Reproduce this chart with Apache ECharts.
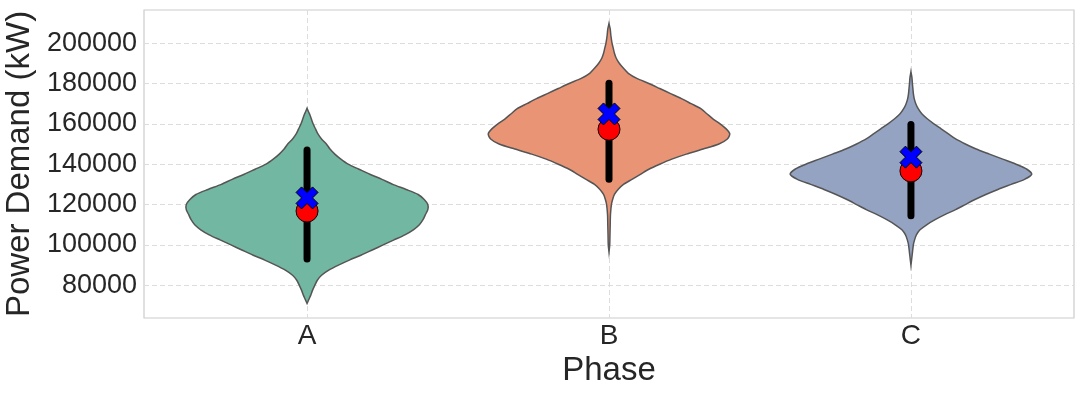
<!DOCTYPE html>
<html>
<head>
<meta charset="utf-8">
<script src="https://cdn.jsdelivr.net/npm/echarts@6/dist/echarts.min.js"></script>
<style>
html, body { margin: 0; padding: 0; background: #fff; }
#chart { width: 1084px; height: 395px; }
</style>
</head>
<body>
<div id="chart"></div>
<script>
var phases = ['A', 'B', 'C'];
var yTicks = [80000, 100000, 120000, 140000, 160000, 180000, 200000];

// violin outlines: [power, relative half width]
var violinA = [
    [167700, 0], [166000, 0.012], [165000, 0.02], [162500, 0.035], [160000, 0.05],
    [157500, 0.07], [155000, 0.09], [152500, 0.12], [150000, 0.16], [147500, 0.19],
    [145000, 0.23], [142500, 0.28], [140000, 0.34], [137500, 0.43], [135000, 0.52],
    [132500, 0.62], [130000, 0.71], [127500, 0.82], [125000, 0.92], [122500, 0.97],
    [120000, 1.0], [117500, 1.0], [115000, 0.98], [112500, 0.96], [110000, 0.93],
    [107500, 0.88], [105000, 0.81], [102500, 0.72], [100000, 0.63], [97500, 0.54],
    [95000, 0.45], [92500, 0.35], [90000, 0.26], [87500, 0.18], [85000, 0.12],
    [82500, 0.085], [80000, 0.064], [77500, 0.045], [75000, 0.03], [73000, 0.015],
    [71000, 0]
];
var violinB = [
    [209700, 0], [207000, 0.01], [204000, 0.015], [200000, 0.025], [197500, 0.035],
    [195000, 0.045], [192500, 0.06], [190000, 0.085], [187500, 0.12], [185000, 0.16],
    [182500, 0.23], [180000, 0.33], [177500, 0.42], [175000, 0.51], [172500, 0.6],
    [170000, 0.68], [167500, 0.76], [165000, 0.81], [162500, 0.86], [160000, 0.92],
    [157500, 0.97], [155000, 1.0], [152500, 0.98], [150000, 0.91], [147500, 0.78],
    [145000, 0.64], [142500, 0.52], [140000, 0.42], [137500, 0.33], [135000, 0.26],
    [132500, 0.19], [130000, 0.12], [127500, 0.075], [125000, 0.045], [122500, 0.03],
    [120000, 0.02], [115000, 0.012], [110000, 0.01], [105000, 0.008], [100000, 0.006],
    [96500, 0]
];
var violinC = [
    [185800, 0], [183000, 0.008], [180000, 0.012], [177500, 0.016], [175000, 0.02],
    [172500, 0.027], [170000, 0.04], [167500, 0.06], [165000, 0.09], [162500, 0.135],
    [160000, 0.19], [157500, 0.25], [155000, 0.31], [152500, 0.37], [150000, 0.45],
    [147500, 0.54], [145000, 0.65], [142500, 0.76], [140000, 0.87], [137500, 0.96],
    [135000, 1.0], [132500, 0.94], [130000, 0.83], [127500, 0.72], [125000, 0.62],
    [122500, 0.53], [120000, 0.45], [117500, 0.37], [115000, 0.28], [112500, 0.2],
    [110000, 0.13], [107500, 0.075], [105000, 0.045], [102500, 0.03], [100000, 0.02],
    [95000, 0.01], [90000, 0]
];

var barLow = [93000, 132600, 114400];
var barHigh = [147000, 180100, 159700];
var medians = [116800, 157300, 136700];
var means = [123300, 164900, 143500];

var violinColors = ['#72b7a1', '#e99575', '#95a3c3'];
var violinHalf = 0.4;
var textColor = '#262626';
var xMark = 'path://M2.5,0L5,2.5L7.5,0L10,2.5L7.5,5L10,7.5L7.5,10L5,7.5L2.5,10L0,7.5L2.5,5L0,2.5Z';

var chart = echarts.init(document.getElementById('chart'));

function violinSeries(i, profile) {
    return {
        type: 'custom',
        silent: true,
        z: 2,
        data: [[i, profile[0][0]]],
        renderItem: function (params, api) {
            var right = [], left = [];
            for (var k = 0; k < profile.length; k++) {
                right.push(api.coord([i + profile[k][1] * violinHalf, profile[k][0]]));
                left.unshift(api.coord([i - profile[k][1] * violinHalf, profile[k][0]]));
            }
            return {
                type: 'polygon',
                shape: { points: right.concat(left), smooth: 0.25 },
                style: { fill: violinColors[i], stroke: '#555555', lineWidth: 1.5 }
            };
        }
    };
}

var barData = [];
var medianData = [];
var meanData = [];
for (var i = 0; i < phases.length; i++) {
    barData.push([i, barLow[i], barHigh[i]]);
    medianData.push([i, medians[i]]);
    meanData.push([i, means[i]]);
}

chart.setOption({
    animation: false,
    grid: {
        left: 144, right: 10, top: 10, bottom: 77,
        outerBoundsMode: 'none',
        containLabel: false,
        show: true, borderColor: '#cccccc', borderWidth: 1.2
    },
    xAxis: {
        type: 'value',
        min: -0.54,
        max: 2.54,
        axisLine: { show: false },
        axisTick: { show: false, customValues: [0, 1, 2] },
        axisLabel: {
            customValues: [0, 1, 2],
            formatter: function (v) { return phases[v]; },
            fontSize: 28, color: textColor, fontFamily: 'Liberation Sans', margin: 4
        },
        splitLine: { show: true, lineStyle: { color: '#dddddd', type: [5, 3], width: 1 } },
        name: 'Phase',
        nameLocation: 'middle',
        nameGap: 32,
        nameTextStyle: { fontSize: 33, color: textColor, fontFamily: 'Liberation Sans' }
    },
    yAxis: {
        type: 'value',
        min: 63800,
        max: 216400,
        axisLine: { show: false },
        axisTick: { show: false, customValues: yTicks },
        axisLabel: {
            customValues: yTicks,
            formatter: function (v) { return String(v); },
            fontSize: 27, color: textColor, fontFamily: 'Liberation Sans', margin: 7
        },
        splitLine: { show: true, lineStyle: { color: '#dddddd', type: [5, 3], width: 1 } },
        name: 'Power Demand (kW)',
        nameLocation: 'middle',
        nameGap: 97,
        nameTextStyle: { fontSize: 33, color: textColor, fontFamily: 'Liberation Sans' }
    },
    series: [
        violinSeries(0, violinA),
        violinSeries(1, violinB),
        violinSeries(2, violinC),
        {
            type: 'custom',
            silent: true,
            z: 3,
            data: barData,
            renderItem: function (params, api) {
                var p1 = api.coord([api.value(0), api.value(1)]);
                var p2 = api.coord([api.value(0), api.value(2)]);
                return {
                    type: 'line',
                    shape: { x1: p1[0], y1: p1[1], x2: p2[0], y2: p2[1] },
                    style: { stroke: '#000000', lineWidth: 7, lineCap: 'round' }
                };
            }
        },
        {
            type: 'scatter',
            silent: true,
            z: 4,
            data: medianData,
            symbol: 'circle',
            symbolSize: 22,
            itemStyle: { color: '#ff0000', borderColor: '#000000', borderWidth: 1, opacity: 1 }
        },
        {
            type: 'scatter',
            silent: true,
            z: 5,
            data: meanData,
            symbol: xMark,
            symbolSize: 22,
            itemStyle: { color: '#0000ff', borderColor: '#000000', borderWidth: 1, opacity: 1 }
        }
    ]
});
</script>
</body>
</html>
